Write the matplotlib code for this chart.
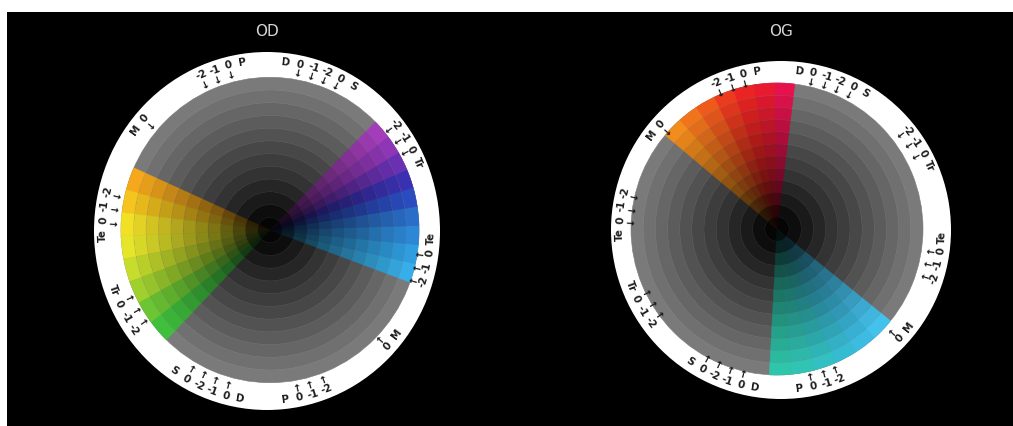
import numpy as np
import matplotlib.pyplot as plt
from matplotlib.patches import Wedge, Ellipse, Rectangle
from matplotlib.colors import to_rgb
from matplotlib.transforms import Affine2D

W, H = 1013, 426

# grey level of each ring, centre -> rim
ring_levels = [0.02, 0.05, 0.10, 0.15, 0.20, 0.24, 0.28, 0.32, 0.36, 0.40, 0.44, 0.48]

titles = ["OD", "OG"]

# coloured sectors: (start angle, end angle, rim colours from start to end)
od_sectors = [
    (-20, 45, ['#36aee9', '#2f9ee0', '#2c88d6', '#2a6ec8', '#2a4cc0',
               '#3a30b2', '#6a30b2', '#8f36b6', '#a33dba']),
    (156, 226, ['#f5a81c', '#f5c41e', '#f2e027', '#e6e52a', '#c7dc2c',
                '#9fd02e', '#6cc634', '#3fbf3d']),
]
og_sectors = [
    (83, 140, ['#e6124e', '#e81a30', '#ea2422', '#ec3a1e', '#ee5a1c',
               '#f0741c', '#f28c1c']),
    (267, 321, ['#2ec6aa', '#30c4b4', '#32c0c2', '#36bcd2', '#3cbce2',
                '#44c2ee']),
]

# rim labels: centre angle, tokens in reading order, reading counter-clockwise?
label_angles = [106, 71, 31, -10, -40, -76, -112, 208, 174, 141]
label_tokens = [
    ["-2", "-1", "0", "P"],
    ["D", "0", "-1", "-2", "0", "S"],
    ["-2", "-1", "0", "Tr"],
    ["-2", "-1", "0", "Te"],
    ["0", "M"],
    ["P", "0", "-1", "-2"],
    ["S", "0", "-2", "-1", "0", "D"],
    ["Tr", "0", "-1", "-2"],
    ["Te", "0", "-1", "-2"],
    ["M", "0"],
]
label_flip = [False, False, False, True, True, True, True, True, False, False]


def shade(c, f):
    return tuple(np.clip(np.array(to_rgb(c)) * f, 0, 1))


def draw_wheel(ax, geo, sectors, title):
    cx, cy, orx, ory, icx, icy, ir, k = geo
    ax.add_patch(Ellipse((cx, cy), 2 * orx, 2 * ory, facecolor='white',
                         edgecolor='none'))
    tr = Affine2D().translate(-icx, -icy).scale(1, k).translate(icx, icy) + ax.transData
    step = ir / len(ring_levels)
    top = ring_levels[-1]
    for i, g in enumerate(ring_levels):
        r_out = (i + 1) * step
        ax.add_patch(Wedge((icx, icy), r_out, 0, 360, width=step,
                           facecolor=(g, g, g), edgecolor=(g, g, g), lw=0.4,
                           transform=tr))
        f = (g / top) ** 0.75
        for t1, t2, cols in sectors:
            d = (t2 - t1) / len(cols)
            for j, c in enumerate(cols):
                rgb = shade(c, f)
                ax.add_patch(Wedge((icx, icy), r_out, t1 + j * d, t1 + (j + 1) * d,
                                   width=step, facecolor=rgb, edgecolor=rgb,
                                   lw=0.4, transform=tr))

    tstep = 5.0
    for a0, toks, flip in zip(label_angles, label_tokens, label_flip):
        n = len(toks)
        for j, tok in enumerate(toks):
            if flip:
                a = a0 - (n - 1) / 2 * tstep + j * tstep
            else:
                a = a0 + (n - 1) / 2 * tstep - j * tstep
            ar = np.radians(a)
            rot = np.degrees(np.arctan2(ory * np.cos(ar), -orx * np.sin(ar)))
            if not flip:
                rot -= 180
            x = cx + (orx - 9) * np.cos(ar)
            y = cy + (ory - 9) * np.sin(ar)
            ax.text(x, y, tok, fontsize=7.5, fontweight='bold', color='#1c1c1c',
                    ha='center', va='center', rotation=rot, rotation_mode='anchor')
            if tok[0] in '-0123456789':
                xa = cx + (orx - 19) * np.cos(ar)
                ya = cy + (ory - 19) * np.sin(ar)
                ax.text(xa, ya, '↑' if flip else '↓', fontsize=7.5,
                        fontweight='bold', color='#1c1c1c', ha='center',
                        va='center', rotation=rot, rotation_mode='anchor')

    ax.text(cx, H - 31, title, fontsize=11, color='#d6d6d6', ha='center',
            va='center')


fig = plt.figure(figsize=(W / 100, H / 100), dpi=100, facecolor='white')
ax = fig.add_axes([0, 0, 1, 1])
ax.set_xlim(0, W)
ax.set_ylim(0, H)
ax.axis('off')
ax.add_patch(Rectangle((7, 0), W - 7, H - 12, facecolor='black', edgecolor='none'))

# geometry in pixels (y measured upward): outer cx, cy, rx, ry, inner cx, cy, r, y-stretch
left_geo = (267, H - 231, 173, 179, 270, H - 230, 149, 1.025)
right_geo = (781, H - 230, 170, 169, 777, H - 229, 146, 1.0)

draw_wheel(ax, left_geo, od_sectors, titles[0])
draw_wheel(ax, right_geo, og_sectors, titles[1])

fig.savefig('out.png', dpi=100, facecolor=fig.get_facecolor())
